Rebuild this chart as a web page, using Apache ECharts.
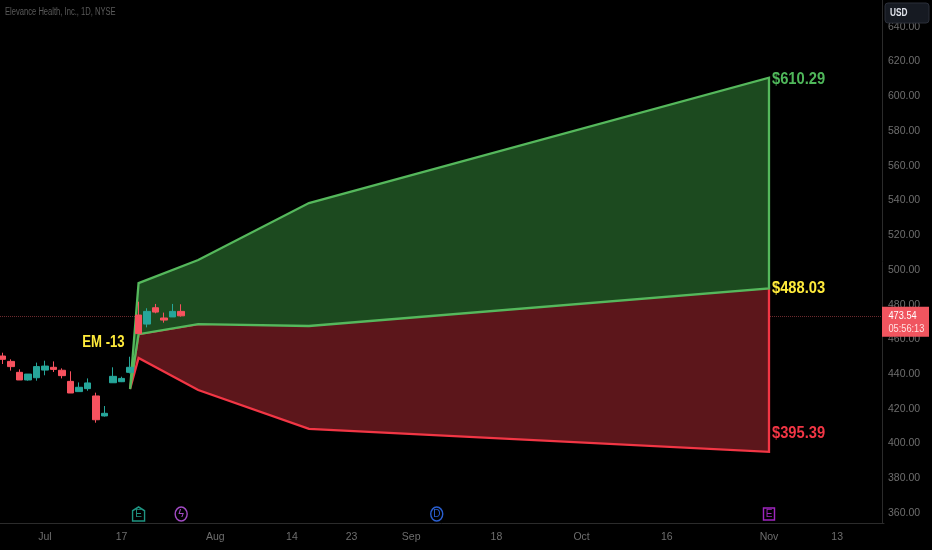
<!DOCTYPE html>
<html><head><meta charset="utf-8">
<style>html,body{margin:0;padding:0;background:#000}#c{width:932px;height:550px}</style>
<script src="https://cdn.jsdelivr.net/npm/echarts@6/dist/echarts.min.js"></script>
</head><body><div id="c"></div>
<script>
const categories = ['Jun 26','Jun 27','Jun 28','Jun 29','Jun 30',
'Jul 3','Jul 5','Jul 6','Jul 7','Jul 10','Jul 11','Jul 12','Jul 13','Jul 14','Jul 17','Jul 18','Jul 19','Jul 20','Jul 21','Jul 24','Jul 25','Jul 26','Jul 27','Jul 28','Jul 31',
'Aug 1','Aug 2','Aug 3','Aug 4','Aug 7','Aug 8','Aug 9','Aug 10','Aug 11','Aug 14','Aug 15','Aug 16','Aug 17','Aug 18','Aug 21','Aug 22','Aug 23','Aug 24','Aug 25','Aug 28','Aug 29','Aug 30','Aug 31',
'Sep 1','Sep 5','Sep 6','Sep 7','Sep 8','Sep 11','Sep 12','Sep 13','Sep 14','Sep 15','Sep 18','Sep 19','Sep 20','Sep 21','Sep 22','Sep 25','Sep 26','Sep 27','Sep 28','Sep 29',
'Oct 2','Oct 3','Oct 4','Oct 5','Oct 6','Oct 9','Oct 10','Oct 11','Oct 12','Oct 13','Oct 16','Oct 17','Oct 18','Oct 19','Oct 20','Oct 23','Oct 24','Oct 25','Oct 26','Oct 27','Oct 30','Oct 31',
'Nov 1','Nov 2','Nov 3','Nov 6','Nov 7','Nov 8','Nov 9','Nov 10','Nov 13','Nov 14','Nov 15','Nov 16','Nov 17','Nov 20'];
const tickDates  = ['Jul 3','Jul 17','Aug 1','Aug 14','Aug 23','Sep 1','Sep 18','Oct 2','Oct 16','Nov 1','Nov 13'];
const tickLabels = ['Jul','17','Aug','14','23','Sep','18','Oct','16','Nov','13'];
const yTicks = [360,380,400,420,440,460,480,500,520,540,560,580,600,620,640];
// open, close, low, high
const candles = [
[450.4,448.5,445.8,452.3],[447.3,444.3,442.0,448.5],[441.0,436.6,436.6,442.7],[436.6,440.0,436.2,440.0],
[437.9,444.3,436.2,446.6],[442.3,444.6,439.3,447.7],[443.9,442.7,441.2,447.3],[442.2,439.1,437.5,443.3],
[435.8,429.1,429.1,441.6],[429.9,432.4,429.9,435.2],[431.6,434.9,430.4,437.5],[427.4,413.7,412.0,429.3],
[415.9,417.4,415.5,421.6],[435.0,438.7,435.0,443.9],[435.6,437.5,435.4,438.5],[441.0,443.9,440.4,450.0],
[474.0,463.3,463.3,481.7],[468.8,476.1,466.9,477.9],[478.2,475.7,475.0,480.4],[472.3,471.1,469.6,475.4],
[472.9,476.1,472.9,480.4],[476.1,473.54,473.1,480.2]];
const rangeDates = ['Jul 19','Jul 28','Aug 16','Nov 1'];
const startDate = 'Jul 18', startValue = 431.4;
const upperValues = [492.4,505.7,538.5,610.7];
const midGreenValues = [463.0,468.8,467.7,489.3];
const midRedValues = [463.0,468.8,469.2,489.6];
const lowerValues = [449.3,430.8,408.4,395.2];
const lastPrice = 473.54, countdown = '05:56:13';
// text, date, value where the text sits, colour
const rangeLabels = [['$610.29','Nov 1',609.4,'#4fb75a'],['$488.03','Nov 1',489.0,'#ffeb3b'],['$395.39','Nov 1',405.6,'#f23645']];
const eventValue = 359.4;
const events = [['Jul 19','E','#1f9583','house'],['Jul 26','ϟ','#a24bc4','circle'],['Sep 7','D','#2a5fd0','circle'],['Nov 1','E','#a026c0','rect']];
const noteDate='Jul 13', noteValue=458.0, noteText='EM -13';

const FONT = '"Liberation Sans",sans-serif';
const idx = d => categories.indexOf(d);
const chart = echarts.init(document.getElementById('c'), null, {renderer:'canvas'});

function polygonSeries(edge, mid, fill, stroke, z){
  return {type:'custom', coordinateSystem:'cartesian2d', z, silent:true, clip:true,
    encode:{x:0,y:1}, data:[[startDate,startValue]],
    renderItem(p,api){
      const pts=[api.coord([idx(startDate),startValue])];
      rangeDates.forEach((d,i)=>pts.push(api.coord([idx(d),edge[i]])));
      for(let i=rangeDates.length-1;i>=0;i--) pts.push(api.coord([idx(rangeDates[i]),mid[i]]));
      return {type:'polygon',shape:{points:pts},style:{fill,stroke,lineWidth:2.3,lineJoin:'miter'}};
    }};
}
// narrow text placed through the axes
function textSeries(items){
  return {type:'custom',coordinateSystem:'cartesian2d',z:6,silent:true,clip:false,
    encode:{x:0,y:1},data:items.map(t=>[t.date,t.value]),
    renderItem(p,api){
      const t=items[p.dataIndex], c=api.coord([idx(t.date),t.value]);
      return {type:'text',x:c[0]+t.dx,y:c[1],scaleX:t.scale,
        style:{text:t.text,fill:t.color,font:t.font,textAlign:t.align,textVerticalAlign:'middle',verticalAlign:'middle'}};
    }};
}
const rangeText = rangeLabels.map(r=>({text:r[0],date:r[1],value:r[2],color:r[3],dx:3,scale:0.92,align:'left',font:'bold 16px '+FONT}));
const noteItem = [{text:noteText,date:noteDate,value:noteValue,color:'#ffeb3b',dx:-1,scale:0.82,align:'center',font:'bold 16px '+FONT}];

chart.setOption({
  animation:false, backgroundColor:'#000',
  grid:{left:-2,right:48,top:0,bottom:27,outerBoundsMode:'none'},
  xAxis:{type:'category',data:categories,boundaryGap:true,
    axisLine:{show:true,lineStyle:{color:'#2b2b2b',width:1}},axisTick:{show:false},splitLine:{show:false},
    axisLabel:{color:'#6e6e6e',fontSize:10.5,fontFamily:FONT,margin:9,hideOverlap:false,
      interval:(i,v)=>tickDates.includes(v),
      formatter:v=>tickLabels[tickDates.indexOf(v)]}},
  yAxis:{type:'value',position:'right',offset:-2,min:354.24,max:655.42,
    axisLine:{show:true,onZero:false,lineStyle:{color:'#2b2b2b',width:1}},axisTick:{show:false},splitLine:{show:false},
    axisLabel:{color:'#6e6e6e',fontSize:10.5,fontFamily:FONT,margin:6,customValues:yTicks,formatter:v=>v.toFixed(2)}},
  series:[
    polygonSeries(lowerValues,midRedValues,'#5c161b','#f23645',2),
    polygonSeries(upperValues,midGreenValues,'#1c4a1f','#55b85c',3),
    {type:'candlestick',z:5,barWidth:7,silent:true,data:candles,
      itemStyle:{color:'#26a69a',color0:'#f7525f',borderColor:'#26a69a',borderColor0:'#f7525f',borderWidth:1},
      markLine:{silent:true,symbol:'none',label:{show:false},z:1,
        lineStyle:{color:'#6e2a2e',type:'dotted',width:1},data:[{yAxis:lastPrice}]}},
    textSeries(rangeText),
    textSeries(noteItem),
    {type:'scatter',z:6,silent:true,
      data:events.map(e=>({value:[e[0],eventValue],symbol:e[3]==='rect'?'rect':(e[3]==='circle'?'circle':'path://M0,4 L5,0 L10,4 L10,15 L0,15 Z'),
        symbolSize:e[3]==='rect'?[11,12]:[12,14],
        itemStyle:{color:'#000',borderColor:e[2],borderWidth:1.5,opacity:1},
        label:{show:true,position:'inside',formatter:e[1],color:e[2],fontSize:e[1]==='ϟ'?11:10,fontFamily:FONT}}))}
  ]
});

const py = chart.convertToPixel({yAxisIndex:0},lastPrice);
chart.setOption({graphic:[
  {type:'text',z:51,x:5,y:7,scaleX:0.76,style:{text:'Elevance Health, Inc., 1D, NYSE',fill:'#5a5a5a',font:'10px '+FONT}},
  {type:'rect',z:50,shape:{x:885,y:3,width:44,height:20,r:3},style:{fill:'#161a22',stroke:'#2a2e39',lineWidth:1}},
  {type:'text',z:51,x:890,y:7,scaleX:0.72,style:{text:'USD',fill:'#e0e3eb',font:'bold 11.5px '+FONT}},
  {type:'rect',z:50,shape:{x:882,y:py-9,width:47,height:30},style:{fill:'#f0555f'}},
  {type:'text',z:51,x:888.5,y:py-6.5,scaleX:0.8,style:{text:lastPrice.toFixed(2),fill:'#fff',font:'11.5px '+FONT}},
  {type:'text',z:51,x:888.5,y:py+6.5,scaleX:0.8,style:{text:countdown,fill:'#ffe0e0',font:'11.5px '+FONT}}
]});
</script></body></html>
